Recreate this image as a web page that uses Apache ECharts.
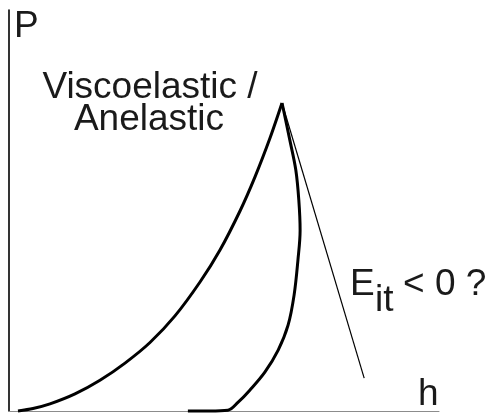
<!DOCTYPE html>
<html>
<head>
<meta charset="utf-8">
<script src="https://cdn.jsdelivr.net/npm/echarts@6/dist/echarts.min.js"></script>
<style>
  html, body { margin: 0; padding: 0; background: #ffffff; }
  #chart { width: 493px; height: 413px; }
</style>
</head>
<body>
<div id="chart"></div>
<script>
// Load–displacement sketch: loading branch, bulging unloading branch, and the
// tangent at peak load (its slope gives the indentation modulus E_it).

// Loading branch (h, P)
const loadH = [2.09, 5.58, 9.53, 15.35, 21.16, 26.98, 32.79, 38.60, 44.42, 49.07, 53.72, 57.21, 60.70, 63.49];
const loadP = [0, 0.62, 1.77, 4.26, 7.66, 11.95, 17.08, 23.72, 32.17, 40.15, 49.88, 58.39, 68.08, 76.81];

// Unloading branch (h, P) — creeps forward before coming back down
const unloadH = [63.5, 65.3, 66.7, 67.4, 67.7, 67.2, 66.3, 64.9, 62.6, 59.5, 56.0, 53.3, 50.9, 46.7, 41.6];
const unloadP = [76.8, 67.6, 60.1, 52.6, 45.1, 37.7, 28.9, 21.4, 15.2, 9.7, 5.2, 2.2, 0.2, 0, 0];

// Tangent to the start of unloading
const tangentH = [63.5, 82.6];
const tangentP = [76.8, 8.2];

// Axis extents
const hRange = [0, 100];
const pRange = [0, 100];

const zip = (xs, ys) => xs.map((x, i) => [x, ys[i]]);

const FONT = '"Liberation Sans", Arial, Helvetica, sans-serif';
const TEXT_COLOR = '#1a1a1a';
const SIZE = 37;

function label(text, x, y, align) {
  return {
    type: 'text',
    x: x,
    y: y,
    z: 10,
    style: {
      text: text,
      fontFamily: FONT,
      fontSize: SIZE,
      fill: TEXT_COLOR,
      align: align || 'left',
      verticalAlign: 'top'
    }
  };
}

const chart = echarts.init(document.getElementById('chart'), null, { renderer: 'canvas' });

chart.setOption({
  animation: false,
  backgroundColor: '#ffffff',
  grid: { left: 9, right: 54, top: 10, bottom: 2, containLabel: false },
  xAxis: {
    type: 'value',
    min: hRange[0],
    max: hRange[1],
    axisLine: { show: true, lineStyle: { color: '#8c8c8c', width: 1 } },
    axisTick: { show: false },
    axisLabel: { show: false },
    splitLine: { show: false }
  },
  yAxis: {
    type: 'value',
    min: pRange[0],
    max: pRange[1],
    axisLine: { show: true, lineStyle: { color: '#000000', width: 1.6 } },
    axisTick: { show: false },
    axisLabel: { show: false },
    splitLine: { show: false }
  },
  series: [
    {
      name: 'loading',
      type: 'line',
      data: zip(loadH, loadP),
      smooth: 0.3,
      symbol: 'none',
      clip: false,
      lineStyle: { color: '#000000', width: 3 }
    },
    {
      name: 'unloading',
      type: 'line',
      data: zip(unloadH, unloadP),
      smooth: 0.35,
      symbol: 'none',
      clip: false,
      lineStyle: { color: '#000000', width: 3 }
    },
    {
      name: 'tangent',
      type: 'line',
      data: zip(tangentH, tangentP),
      symbol: 'none',
      clip: false,
      lineStyle: { color: '#000000', width: 1.2 }
    }
  ],
  graphic: [
    label('P', 14, 8),
    label('Viscoelastic /', 150, 69, 'center'),
    label('Anelastic', 149, 101, 'center'),
    label('E', 350, 266),
    label('it', 375, 282),
    label('< 0 ?', 403, 266),
    label('h', 418, 376)
  ]
});
</script>
</body>
</html>
